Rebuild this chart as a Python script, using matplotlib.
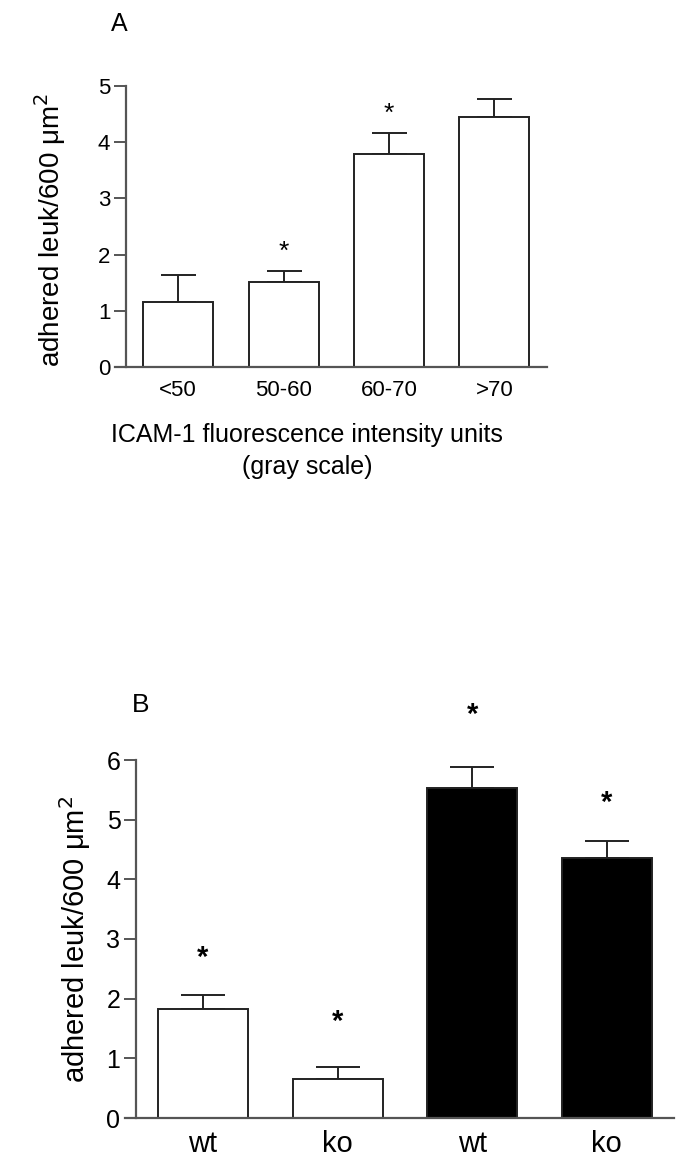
import matplotlib
matplotlib.use("Agg")
import matplotlib.pyplot as plt

plt.rcParams["font.family"] = ["Liberation Sans", "DejaVu Sans"]

# panel A
a_labels = ["<50", "50-60", "60-70", ">70"]
a_means = [1.16, 1.51, 3.79, 4.44]
a_sem = [0.48, 0.20, 0.38, 0.33]
a_stars = [None, 2.05, 4.5, None]

# panel B
b_labels = ["wt", "ko", "wt", "ko"]
b_means = [1.82, 0.66, 5.53, 4.36]
b_sem = [0.24, 0.19, 0.35, 0.28]
b_colors = ["white", "white", "black", "black"]
b_stars = [2.68, 1.61, 6.76, 5.28]

W, H = 688, 1175
fig = plt.figure(figsize=(W / 100, H / 100), dpi=100)


def px_axes(left, top, right, bottom):
    return fig.add_axes([left / W, 1 - bottom / H, (right - left) / W, (bottom - top) / H])


def style(ax, ymax, tick_fs):
    for s in ("top", "right"):
        ax.spines[s].set_visible(False)
    for s in ("left", "bottom"):
        ax.spines[s].set_color("#555555")
        ax.spines[s].set_linewidth(1.6)
    ax.spines["left"].set_position(("data", -0.5))
    ax.set_ylim(0, ymax)
    ax.set_yticks(range(ymax + 1))
    ax.tick_params(axis="y", length=9, width=1.4, color="#555555", pad=2, labelsize=tick_fs)
    ax.tick_params(axis="x", length=0, pad=9, labelsize=tick_fs)


# ---- A ----
ax1 = px_axes(115, 86, 547, 367)
x = range(len(a_labels))
ax1.bar(x, a_means, width=0.665, color="white", edgecolor="#222222", linewidth=1.4, zorder=2)
ax1.errorbar(x, a_means, yerr=[[0] * 4, a_sem], fmt="none", ecolor="#222222",
             elinewidth=1.4, capsize=12.6, capthick=1.4, zorder=1)
for i, s in enumerate(a_stars):
    if s is not None:
        ax1.text(i, s, "*", ha="center", va="center", fontsize=19)
ax1.set_xlim(-0.6, 3.5)
style(ax1, 5, 16)
ax1.set_xticks(list(x))
ax1.set_xticklabels(a_labels)
fig.text(50 / W, 1 - 230 / H, "adhered leuk/600 μm$^2$", rotation=90,
         ha="center", va="center", fontsize=20)
fig.text(307 / W, 1 - 435 / H, "ICAM-1 fluorescence intensity units", ha="center",
         va="center", fontsize=18)
fig.text(307 / W, 1 - 467 / H, "(gray scale)", ha="center", va="center", fontsize=18)
fig.text(119 / W, 1 - 24 / H, "A", ha="center", va="center", fontsize=18)

# ---- B ----
ax2 = px_axes(125, 760, 674, 1118)
x = range(len(b_labels))
ax2.bar(x, b_means, width=0.67, color=b_colors, edgecolor="#222222", linewidth=1.4, zorder=2)
ax2.errorbar(x, b_means, yerr=[[0] * 4, b_sem], fmt="none", ecolor="#222222",
             elinewidth=1.4, capsize=15.8, capthick=1.4, zorder=1)
for i, s in enumerate(b_stars):
    ax2.text(i, s, "*", ha="center", va="center", fontsize=21, fontweight="bold")
ax2.set_xlim(-0.58, 3.5)
style(ax2, 6, 18)
ax2.set_xticks(list(x))
ax2.set_xticklabels(b_labels, fontsize=21)
fig.text(75 / W, 1 - 939 / H, "adhered leuk/600 μm$^2$", rotation=90,
         ha="center", va="center", fontsize=21)
fig.text(141 / W, 1 - 705 / H, "B", ha="center", va="center", fontsize=19)

fig.savefig("out.png", dpi=100)
